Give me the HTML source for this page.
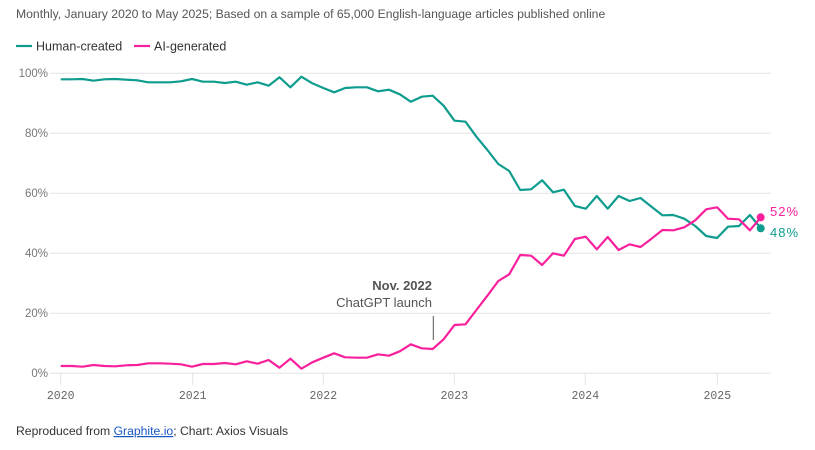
<!DOCTYPE html>
<html><head><meta charset="utf-8"><style>
body{margin:0;background:#fff;width:815px;height:450px;overflow:hidden;font-family:"Liberation Sans",sans-serif}
svg{position:absolute;left:0;top:0}
</style></head><body>
<svg width="815" height="450" id="s" font-family="Liberation Sans, sans-serif">
<text x="16" y="18" font-size="12.2" fill="#555">Monthly, January 2020 to May 2025; Based on a sample of 65,000 English-language articles published online</text>
<line x1="16" y1="46" x2="32" y2="46" stroke="#0e9c8e" stroke-width="2.2"/>
<text x="36" y="50.5" font-size="12.5" fill="#333">Human-created</text>
<line x1="134" y1="46" x2="150" y2="46" stroke="#f8209d" stroke-width="2.2"/>
<text x="154" y="50.5" font-size="12.5" fill="#333">AI-generated</text>
<g stroke="#e3e3e3" stroke-width="1">
<line x1="50" x2="771" y1="73.3" y2="73.3"/><line x1="50" x2="771" y1="133.3" y2="133.3"/><line x1="50" x2="771" y1="193.3" y2="193.3"/><line x1="50" x2="771" y1="253.3" y2="253.3"/><line x1="50" x2="771" y1="313.3" y2="313.3"/><line x1="50" x2="771" y1="373.3" y2="373.3"/>
<line x1="60.7" x2="60.7" y1="373" y2="385"/><line x1="192.7" x2="192.7" y1="373" y2="385"/><line x1="323.3" x2="323.3" y1="373" y2="385"/><line x1="454.3" x2="454.3" y1="373" y2="385"/><line x1="585.3" x2="585.3" y1="373" y2="385"/><line x1="717.3" x2="717.3" y1="373" y2="385"/>
</g>
<g font-size="11.5" fill="#777" text-anchor="end">
<text x="48" y="77">100%</text><text x="48" y="137">80%</text><text x="48" y="197">60%</text><text x="48" y="257">40%</text><text x="48" y="317">20%</text><text x="48" y="377">0%</text>
</g>
<g font-size="11.5" fill="#666" text-anchor="middle" font-family="Liberation Mono, monospace">
<text x="60.7" y="399">2020</text><text x="192.7" y="399">2021</text><text x="323.3" y="399">2022</text><text x="454.3" y="399">2023</text><text x="585.3" y="399">2024</text><text x="717.3" y="399">2025</text>
</g>
<text x="432" y="290" font-size="13" font-weight="bold" fill="#555" text-anchor="end">Nov. 2022</text>
<text x="432" y="307" font-size="13" fill="#555" text-anchor="end">ChatGPT launch</text>
<line x1="433.3" y1="316" x2="433.3" y2="340" stroke="#555" stroke-width="1"/>
<polyline id="h" fill="none" stroke="#0e9c8e" stroke-width="2.2" stroke-linejoin="round"/>
<polyline id="a" fill="none" stroke="#f8209d" stroke-width="2.2" stroke-linejoin="round"/>
<circle cx="760.7" cy="228.3" r="4" fill="#0e9c8e"/>
<circle cx="760.7" cy="217.3" r="4" fill="#f8209d"/>
<text x="770" y="216" font-size="13" fill="#f8209d" letter-spacing="1">52%</text>
<text x="770" y="237" font-size="13" fill="#0e9c8e" letter-spacing="1">48%</text>
<text x="16" y="435" font-size="12.2" fill="#333">Reproduced from <tspan fill="#1a56c4" text-decoration="underline">Graphite.io</tspan>; Chart: Axios Visuals</text>
</svg>
<script>
var h1=[58,58,57,62,58,57,59,61,67,67,67,64,57,65,65,69,65,74,67,77,52,82,50,70,84,97,84,82,82,94,89,103,125,110];
var h2=[107,137,182,185,230,270,312,333,390,388,361,397,389,438,446,408,446,408,423,414,440,466,465,476,498,528,534,500,498,465,505];
var a1=[918,918,920,915,918,919,916,915,910,910,911,913,920,912,912,909,913,904,911,900,923,896,926,907,893,880,892,893,893,883,887,874,853,865,867];
var a2=[838,795,793,750,707,663,643,585,587,615,580,587,537,530,568,531,570,553,561,536,510,511,502,481,448,442,476,478,511,472];
var H=h1.concat(h2),A=a1.concat(a2);
function pts(v){return v.map(function(y,i){return (60.7+i*10.94).toFixed(1)+","+(60+y/3).toFixed(1)}).join(" ")}
document.getElementById("h").setAttribute("points",pts(H));
document.getElementById("a").setAttribute("points",pts(A));
</script>
</body></html>
